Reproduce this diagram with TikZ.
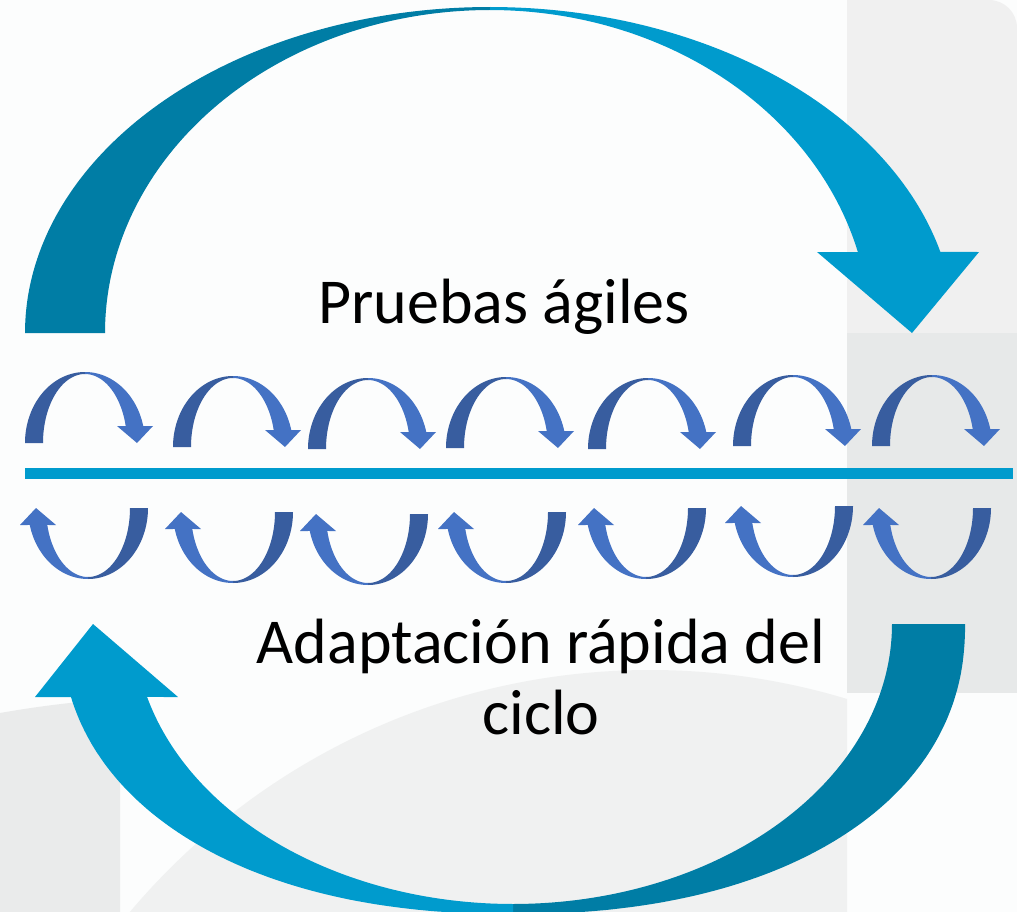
\documentclass[tikz,border=0pt]{standalone}
\usepackage{fontspec}
\setmainfont{Carlito}
\definecolor{tealdark}{HTML}{007DA5}
\definecolor{teallight}{HTML}{009BCD}
\definecolor{smalldark}{HTML}{385D9F}
\definecolor{smalllight}{HTML}{4472C4}
\definecolor{bgwhite}{HTML}{FCFDFD}
\definecolor{bgA}{HTML}{F0F0F0}
\definecolor{bgB}{HTML}{E7E9E9}
\definecolor{bgC}{HTML}{EAEBEB}
\definecolor{bgD}{HTML}{F0F1F1}
\tikzset{
  bigdark/.style={fill=tealdark},
  biglight/.style={fill=teallight},
  smdark/.style={fill=smalldark},
  smlight/.style={fill=smalllight},
  midline/.style={fill=teallight},
  lbl/.style={font=\fontsize{64}{74}\selectfont, text=black, inner sep=0pt, anchor=base},
}
\newcommand\smallcyc{%
  \fill[smdark] plot[domain=180:90, samples=40] ({60*cos(\x)},{-71*sin(\x)})
     -- plot[domain=90:180, samples=40] ({42*cos(\x)},{-69*sin(\x)}) -- cycle;
  \fill[smlight] plot[domain=90:13.85, samples=40] ({60*cos(\x)},{-71*sin(\x)})
     -- (68,-17) -- (52,0) -- (32,-17)
     -- plot[domain=14.26:90, samples=40] ({42*cos(\x)},{-69*sin(\x)}) -- cycle;
}
\begin{document}
\begin{tikzpicture}[x=1pt, y=-1pt]
\useasboundingbox (0,0) rectangle (1017,912);
% background
\fill[bgwhite] (0,0) rectangle (1017,912);
\begin{scope}
  \clip (847,0) rectangle (1017,333);
  \fill[bgA, rounded corners=28pt] (800,0) rectangle (1017,400);
\end{scope}
\fill[bgB] (847,333) rectangle (1017,693);
\fill[bgC] (0,713) .. controls (40,706) and (80,701) .. (120,699) -- (120,912) -- (0,912) -- cycle;
\begin{scope}
  \clip (120,0) rectangle (847,912);
  \fill[bgD] (650,1350) circle[radius=680];
\end{scope}

% big top arrow
\fill[bigdark] plot[domain=180:90, samples=90] ({490+465*cos(\x)},{333-326*sin(\x)})
   -- plot[domain=90:180, samples=90] ({490+385*cos(\x)},{333-323*sin(\x)}) -- cycle;
\fill[biglight] plot[domain=90:14.39, samples=90] ({490+465*cos(\x)},{333-326*sin(\x)})
   -- (979,252) -- (912,333) -- (817,252)
   -- plot[domain=14.52:90, samples=90] ({490+380*cos(\x)},{333-323*sin(\x)}) -- cycle;

% big bottom arrow
\fill[bigdark] plot[domain=0:90, samples=90] ({513+452*(cos(\x)+0.00001)^0.909},{624+290*(sin(\x)+0.00001)^0.909})
   -- plot[domain=90:0, samples=90] ({513+379*cos(\x)},{624+280*sin(\x)}) -- cycle;
\fill[biglight] plot[domain=90:167.33, samples=90] ({513-452*(abs(cos(\x))+0.00001)^0.909},{624+290*(sin(\x)+0.00001)^0.909})
   -- (35,697) -- (93,624) -- (178,697)
   -- plot[domain=164.89:90, samples=90] ({513+379*cos(\x)},{624+280*sin(\x)}) -- cycle;

% middle line
\fill[midline] (25,468) rectangle (1013,479);

% small cycle arrows
\foreach \cx/\by in {85/443, 233/447, 368/449, 506/448, 648/449, 793/446, 932/446}{
  \begin{scope}[shift={(\cx,\by)}]\smallcyc\end{scope}
}
\foreach \cx/\by in {88/508, 233/512, 368/514, 506/512, 646/508, 793/506, 931/508}{
  \begin{scope}[shift={(\cx,\by)}, rotate=180]\smallcyc\end{scope}
}

% labels
\node[lbl] (tPruebas) at (504,323) {Pruebas ágiles};
\node[lbl] (tAdapt) at (541,663) {Adaptación rápida del};
\node[lbl] (tCiclo) at (541,734) {ciclo};
\end{tikzpicture}
\end{document}
